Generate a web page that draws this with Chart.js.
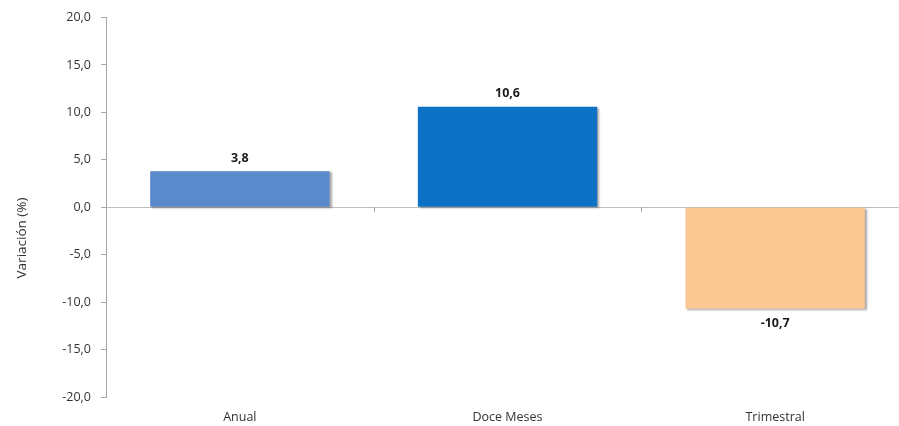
<!DOCTYPE html>
<html>
<head>
<meta charset="utf-8">
<script src="https://cdn.jsdelivr.net/npm/chart.js@4.4.1/dist/chart.umd.min.js"></script>
<style>
  html, body { margin: 0; padding: 0; background: #fff; overflow: hidden; }
  #wrap { width: 909px; height: 426px; }
</style>
</head>
<body>
<div id="wrap"><canvas id="myChart"></canvas></div>
<script>
const categories = ['Anual', 'Doce Meses', 'Trimestral'];
const values = [3.8, 10.6, -10.7];
const barColors = ['#5a8acb', '#0d72c6', '#fbc893'];
const yTitle = 'Variación (%)';

const fmt = v => v.toFixed(1).replace('.', ',');
const FONT = '"Open Sans", "Noto Sans", sans-serif';

// little extras drawn on top: shadow on bars, value labels, axis title, tick marks on zero line
const extras = {
  id: 'extras',
  beforeDatasetsDraw(chart) {
    const ctx = chart.ctx;
    ctx.save();
    ctx.shadowColor = 'rgba(0,0,0,0.35)';
    ctx.shadowOffsetX = 2;
    ctx.shadowOffsetY = 1;
    ctx.shadowBlur = 2;
  },
  afterDatasetsDraw(chart) {
    const ctx = chart.ctx;
    ctx.restore();
    const x = chart.scales.x, y = chart.scales.y;
    const y0 = y.getPixelForValue(0);

    // category tick marks on the zero line
    ctx.save();
    ctx.strokeStyle = '#a6a6a6';
    ctx.lineWidth = 1;
    for (let i = 0; i < categories.length - 1; i++) {
      const xb = Math.round((x.getPixelForValue(i) + x.getPixelForValue(i + 1)) / 2) + 0.5;
      ctx.beginPath();
      ctx.moveTo(xb, y0);
      ctx.lineTo(xb, y0 + 5);
      ctx.stroke();
    }

    // value labels
    ctx.font = 'bold 12.5px ' + FONT;
    ctx.fillStyle = '#1a1a1a';
    ctx.textAlign = 'center';
    ctx.textBaseline = 'middle';
    const meta = chart.getDatasetMeta(0);
    meta.data.forEach((bar, i) => {
      const v = values[i];
      const ty = v >= 0 ? bar.y - 13 : bar.y + 15;
      ctx.fillText(fmt(v), bar.x, ty);
    });

    // y axis title
    ctx.font = '13.5px ' + FONT;
    ctx.fillStyle = '#333333';
    ctx.translate(22, 238);
    ctx.rotate(-Math.PI / 2);
    ctx.fillText(yTitle, 0, 0);
    ctx.restore();
  }
};

const ctx = document.getElementById('myChart').getContext('2d');
const myChart = new Chart(ctx, {
  type: 'bar',
  data: {
    labels: categories,
    datasets: [{
      data: values,
      backgroundColor: barColors,
      borderWidth: 0,
      categoryPercentage: 1,
      barPercentage: 0.67
    }]
  },
  options: {
    responsive: true,
    maintainAspectRatio: false,
    animation: false,
    layout: { padding: { top: 16, right: 0, bottom: 0, left: 0 } },
    plugins: {
      legend: { display: false },
      tooltip: { enabled: false }
    },
    scales: {
      x: {
        grid: { display: false, drawTicks: false, tickLength: 0 },
        border: { display: false },
        ticks: {
          color: '#333333',
          font: { family: FONT, size: 12.5 },
          padding: 13,
          maxRotation: 0
        },
        afterFit(scale) { scale.height = 29; }
      },
      y: {
        min: -20,
        max: 20,
        grid: {
          color: c => (c.tick && c.tick.value === 0) ? '#bfbfbf' : 'rgba(0,0,0,0)',
          tickColor: '#a6a6a6',
          tickLength: 5,
          lineWidth: 1
        },
        border: { display: true, color: '#a6a6a6' },
        ticks: {
          stepSize: 5,
          color: '#333333',
          font: { family: FONT, size: 12.5 },
          padding: 10,
          callback: v => fmt(v)
        },
        afterFit(scale) { scale.width = 106; }
      }
    }
  },
  plugins: [extras]
});
</script>
</body>
</html>
